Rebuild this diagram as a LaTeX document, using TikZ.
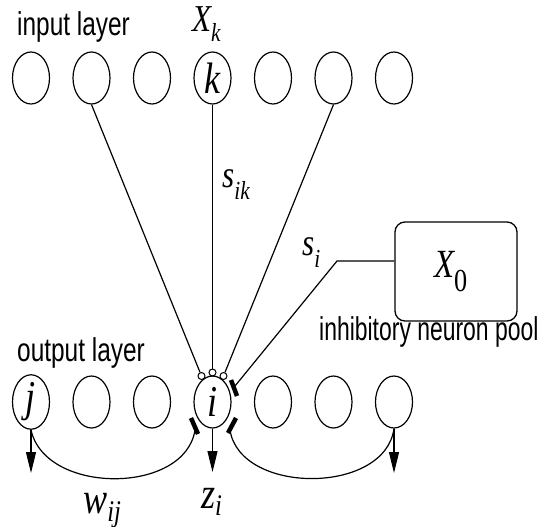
\documentclass[tikz,border=0pt]{standalone}
\usepackage{fontspec}
\setmainfont[FakeStretch=0.74]{Liberation Sans}
\newfontfamily\sansnarrow[FakeStretch=0.695]{Liberation Sans}
\newfontfamily\tms[FakeStretch=0.82]{Liberation Serif}
\usetikzlibrary{shapes.geometric,arrows.meta}
\newcommand\lbl[5]{{\fontsize{#1}{#1}\selectfont\tms\itshape #2}\raisebox{-#5pt}{\fontsize{#3}{#3}\selectfont\tms\itshape #4}}
\newcommand\lblup[5]{{\fontsize{#1}{#1}\selectfont\tms\itshape #2}\raisebox{-#5pt}{\fontsize{#3}{#3}\selectfont\tms #4}}
\begin{document}
\begin{tikzpicture}[x=1pt,y=-1pt,
  neuron/.style={draw,ellipse,line width=1.2pt,minimum width=37pt,minimum height=52pt,inner sep=0pt,font=\fontsize{44}{44}\selectfont\tms\itshape},
  syn/.style={draw,circle,line width=1pt,minimum size=7pt,inner sep=0pt},
  conn/.style={line width=1.2pt},
  arr/.style={line width=1.2pt,-{Triangle[length=21pt,width=10pt]}},
  bar/.style={line width=4.5pt},
  sanslbl/.style={anchor=base west,inner sep=0pt,font=\fontsize{33}{33}\selectfont},
  mlbl/.style={anchor=base west,inner sep=0pt}]
\useasboundingbox (0,0) rectangle (541,527);
% input layer
\foreach \n/\x in {1/31,2/91.5,3/152,5/273,6/333.5,7/394}
  \node[neuron] (in\n) at (\x,78) {};
\node[neuron] (in4) at (212.5,78) {k};
% output layer
\foreach \n/\x in {2/91.5,3/152,5/273,6/333.5,7/394}
  \node[neuron] (o\n) at (\x,402) {};
\node[neuron] (o1) at (31,402) {j};
\node[neuron] (o4) at (212.5,402) {i};
% synapse circles
\node[syn] (sa) at (201.5,376) {};
\node[syn] (sb) at (212.5,372.5) {};
\node[syn] (sc) at (223.5,376) {};
% texts
\node[sanslbl] (tin) at (17,36) {input layer};
\node[sanslbl] (tout) at (17,361) {output layer};
\node[sanslbl] (tinh) at (319,340) {\sansnarrow inhibitory neuron pool};
\node[mlbl] (lxk) at (192,32) {\lbl{38}{X}{26}{k}{10}};
\node[mlbl] (lsik) at (222,187) {\lbl{38}{s}{26}{ik}{12}};
\node[mlbl] (lsi) at (302,255) {\lbl{38}{s}{26}{i}{12}};
\node[mlbl] (lwij) at (83,513) {\lbl{44}{w}{30}{ij}{8}};
\node[mlbl] (lzi) at (201,508) {\lbl{44}{z}{30}{i}{7}};
% inhibitory pool box
\node[draw,line width=1.3pt,rounded corners=10pt,minimum width=122pt,minimum height=99pt,inner sep=0pt] (pool) at (456,271.5) {};
\node[mlbl] (lx0) at (434,277) {\lblup{40}{X}{32}{0}{14}};
% connections
\draw[conn] (in2.south) -- (sa);
\draw[conn] (in4.south) -- (sb);
\draw[conn] (in6.south) -- (sc);
\coordinate (bend) at (337,261);
\coordinate (inhend) at (235,386);
\draw[conn] (pool.west |- bend) -- (bend) -- (inhend);
% output arrows
\coordinate (t1) at (31,473);
\coordinate (t4) at (212.5,472);
\coordinate (t7) at (394,473);
\draw[arr] (o1.south) -- (t1);
\draw[arr] (o4.south) -- (t4);
\draw[arr] (o7.south) -- (t7);
% lateral curves
\coordinate (bl) at (195,430);
\coordinate (br) at (230,430);
\draw[conn] (o1.south) .. controls (45,495) and (185,495) .. (bl);
\draw[conn] (br) .. controls (240,495) and (385,495) .. (o7.south);
% inhibitory bars
\draw[bar] (191,418) -- (198,434);
\draw[bar] (236,418) -- (228,433);
\draw[bar] (231,380) -- (237,396);
\end{tikzpicture}
\end{document}
